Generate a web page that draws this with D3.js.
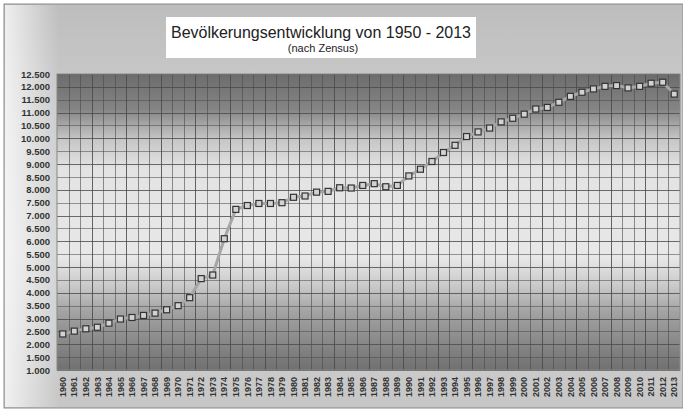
<!DOCTYPE html>
<html>
<head>
<meta charset="utf-8">
<script src="https://cdn.jsdelivr.net/npm/d3@7"></script>
<style>
  body { margin: 0; background: #fff; }
  svg { display: block; font-family: "Liberation Sans", Arial, sans-serif; }
</style>
</head>
<body>
<svg id="chart"></svg>
<script>
// years on the x axis
const years = d3.range(1960, 2014).map(String);

// population (Einwohner)
const population = [
  2400, 2510, 2600, 2660, 2820, 2980, 3040, 3120, 3210, 3340,
  3500, 3810, 4550, 4690, 6100, 7240, 7390, 7470, 7470, 7500,
  7710, 7760, 7910, 7940, 8080, 8070, 8170, 8240, 8120, 8170,
  8540, 8800, 9100, 9450, 9730, 10070, 10250, 10400, 10640, 10780,
  10940, 11140, 11200, 11400, 11630, 11790, 11920, 12020, 12050, 11960,
  12020, 12140, 12180, 11720
];

const yTicks = d3.range(1000, 12501, 500);

const titleText = 'Bevölkerungsentwicklung von 1950 - 2013';
const subtitleText = '(nach Zensus)';

const W = 683, H = 410;
const margin = { top: 74, right: 3, bottom: 40, left: 57 };
const width = W - margin.left - margin.right;
const height = H - margin.top - margin.bottom;

const de = d3.formatLocale({ decimal: ',', thousands: '.', grouping: [3], currency: ['', ' €'] });
const fmt = de.format(',.0f');

const svg = d3.select('#chart')
  .attr('width', W)
  .attr('height', H);

const defs = svg.append('defs');

// outer panel gradient
const panelGrad = defs.append('linearGradient')
  .attr('id', 'panelGrad').attr('x1', 0).attr('y1', 0).attr('x2', 0).attr('y2', 1);
[[0, '#bdbdbd'], [0.25, '#cbcbcb'], [0.6, '#d6d6d6'], [1, '#c6c6c6']].forEach(s =>
  panelGrad.append('stop').attr('offset', s[0]).attr('stop-color', s[1]));

const sideGrad = defs.append('linearGradient')
  .attr('id', 'sideGrad').attr('x1', 0).attr('y1', 0).attr('x2', 1).attr('y2', 0);
[[0, '#ffffff', 0.75], [0.08, '#ffffff', 0.0], [1, '#ffffff', 0]].forEach(s =>
  sideGrad.append('stop').attr('offset', s[0]).attr('stop-color', s[1]).attr('stop-opacity', s[2]));

// plot area gradient: dark at top and bottom, light in the middle
const plotGrad = defs.append('linearGradient')
  .attr('id', 'plotGrad').attr('x1', 0).attr('y1', 0).attr('x2', 0).attr('y2', 1);
[[0, '#6c6c6c'], [0.12, '#858585'], [0.22, '#c6c6c6'], [0.32, '#e3e3e3'],
 [0.62, '#e8e8e8'], [0.72, '#c8c8c8'], [0.8, '#a4a4a4'], [1, '#707070']].forEach(s =>
  plotGrad.append('stop').attr('offset', s[0]).attr('stop-color', s[1]));

svg.append('rect')
  .attr('x', 4).attr('y', 4).attr('width', W - 4).attr('height', H - 6)
  .attr('fill', 'url(#panelGrad)')
  .attr('stroke', '#8a8a8a').attr('stroke-width', 1);
svg.append('rect')
  .attr('x', 5).attr('y', 5).attr('width', W - 5).attr('height', H - 8)
  .attr('fill', 'url(#sideGrad)');

// title box
const titleBox = svg.append('g');
titleBox.append('rect')
  .attr('x', 166).attr('y', 17).attr('width', 310).attr('height', 41)
  .attr('fill', '#fff');
titleBox.append('text')
  .attr('x', 321).attr('y', 38)
  .attr('text-anchor', 'middle')
  .attr('font-size', 17)
  .attr('fill', '#222')
  .attr('textLength', 300)
  .attr('lengthAdjust', 'spacingAndGlyphs')
  .text(titleText);
titleBox.append('text')
  .attr('x', 323).attr('y', 52)
  .attr('text-anchor', 'middle')
  .attr('font-size', 11)
  .attr('fill', '#222')
  .text(subtitleText);

const g = svg.append('g')
  .attr('transform', `translate(${margin.left}, ${margin.top})`);

const x = d3.scaleBand()
  .domain(years)
  .range([0, width]);

const y = d3.scaleLinear()
  .domain([1000, 12500])
  .range([height, 0]);

g.append('rect')
  .attr('width', width)
  .attr('height', height)
  .attr('fill', 'url(#plotGrad)');

// horizontal grid
g.append('g')
  .selectAll('line')
  .data(yTicks)
  .join('line')
  .attr('x1', 0).attr('x2', width)
  .attr('y1', d => Math.round(y(d)) + 0.5)
  .attr('y2', d => Math.round(y(d)) + 0.5)
  .attr('stroke', '#4a4a4a')
  .attr('stroke-opacity', (d, i) => i % 2 ? 0.55 : 0.8);

// vertical grid at category boundaries
g.append('g')
  .selectAll('line')
  .data(years.slice(1))
  .join('line')
  .attr('x1', d => Math.round(x(d)) + 0.5)
  .attr('x2', d => Math.round(x(d)) + 0.5)
  .attr('y1', 0).attr('y2', height)
  .attr('stroke', '#4a4a4a')
  .attr('stroke-opacity', (d, i) => i % 3 === 2 ? 0.85 : 0.6);

g.append('rect')
  .attr('width', width)
  .attr('height', height)
  .attr('fill', 'none')
  .attr('stroke', '#888');

// y axis labels
const yAxis = g.append('g')
  .call(d3.axisLeft(y).tickValues(yTicks).tickFormat(fmt).tickSize(0).tickPadding(7));
yAxis.select('.domain').remove();
yAxis.selectAll('text')
  .attr('font-size', 9.5)
  .attr('font-family', '"Liberation Sans", Arial, sans-serif')
  .attr('font-weight', 'bold')
  .attr('fill', '#333');

// x axis labels (rotated)
const xAxis = g.append('g')
  .attr('transform', `translate(0, ${height})`)
  .call(d3.axisBottom(x).tickSize(0));
xAxis.select('.domain').remove();
xAxis.selectAll('text')
  .attr('font-size', 9)
  .attr('font-family', '"Liberation Sans", Arial, sans-serif')
  .attr('font-weight', 'bold')
  .attr('fill', '#333')
  .attr('text-anchor', 'end')
  .attr('transform', 'rotate(-90)')
  .attr('x', -7)
  .attr('y', 0)
  .attr('dy', '0.35em');

// population line
const line = d3.line()
  .x((d, i) => x(years[i]) + x.bandwidth() / 2)
  .y(d => y(d));

g.append('path')
  .datum(population)
  .attr('d', line)
  .attr('fill', 'none')
  .attr('stroke', '#a6a6a6')
  .attr('stroke-width', 3)
  .attr('stroke-linejoin', 'round');

g.append('g')
  .selectAll('rect')
  .data(population)
  .join('rect')
  .attr('x', (d, i) => x(years[i]) + x.bandwidth() / 2 - 3)
  .attr('y', d => y(d) - 3)
  .attr('width', 6)
  .attr('height', 6)
  .attr('fill', '#d2d2d2')
  .attr('stroke', '#333')
  .attr('stroke-width', 1.2);
</script>
</body>
</html>
